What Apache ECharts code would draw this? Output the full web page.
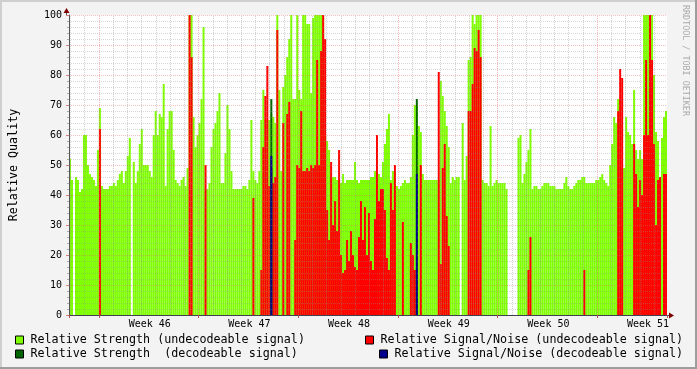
<!DOCTYPE html>
<html><head><meta charset="utf-8">
<script src="https://cdn.jsdelivr.net/npm/echarts@6.0.0/dist/echarts.min.js"></script>
<style>html,body{margin:0;padding:0;background:#f3f3f3}#c{width:697px;height:369px}</style>
</head><body><div id="c"></div>
<script>
// ---- data: each bin = 1/50 week (≈3.4 h) ----
const weekLabels = ['Week 46','Week 47','Week 48','Week 49','Week 50','Week 51'];
const strengthUndecodeable = [
52,45,0,46,45,41,42,60,60,50,47,46,45,43,55,69,43,42,42,42,43,43,44,43,45,
47,48,44,48,53,59,0,51,44,48,57,62,50,50,50,48,46,60,68,60,67,66,77,43,62,
68,68,55,45,44,43,45,46,43,49,100,100,66,56,60,64,72,96,42,42,44,56,62,64,68,
74,44,44,54,70,62,48,42,42,42,42,42,43,43,42,45,65,48,45,44,48,65,75,65,65,
65,67,66,64,100,75,48,76,80,86,92,100,72,72,100,75,72,100,100,97,97,74,99,100,100,
100,100,100,60,58,55,46,46,46,45,45,44,47,44,45,45,45,45,51,45,44,45,45,45,45,
45,46,46,48,48,47,46,51,57,62,67,45,48,48,43,42,43,44,45,44,44,46,60,70,70,
63,61,47,45,45,45,45,45,45,45,45,78,73,68,63,56,44,46,45,46,46,0,64,45,53,
85,86,100,97,100,100,100,45,44,44,43,63,43,44,45,44,44,44,44,42,0,0,0,0,0,
59,60,44,47,51,55,62,42,43,43,42,42,43,44,44,44,43,43,43,42,42,42,42,44,46,
43,42,42,43,44,45,45,46,46,44,44,44,44,44,45,45,46,47,45,44,43,50,57,66,64,
72,72,49,49,66,61,60,57,75,55,52,55,52,100,100,100,100,100,80,61,58,45,59,66,68
];
const snrUndecodeable = [
0,0,0,0,0,0,0,0,0,0,0,0,0,0,0,62,0,0,0,0,0,0,0,0,0,
0,0,0,0,0,0,0,0,0,0,0,0,0,0,0,0,0,0,0,0,0,0,0,0,0,
0,0,0,0,0,0,0,0,0,0,100,86,0,0,0,0,0,0,50,0,0,0,0,0,0,
0,0,0,0,0,0,0,0,0,0,0,0,0,0,0,0,0,39,0,0,0,15,56,73,83,
43,49,44,46,95,0,0,64,0,67,71,0,0,25,50,49,68,48,48,49,48,50,49,50,85,
50,88,100,92,35,25,51,30,38,28,55,20,14,15,25,18,28,20,16,15,26,38,25,36,20,
34,18,15,32,60,38,42,42,35,19,15,44,35,50,0,0,0,31,0,0,0,24,20,15,0,
0,50,0,0,0,0,0,0,0,0,81,17,49,57,33,23,0,0,0,0,0,0,0,0,0,
68,68,77,89,88,95,86,0,0,0,0,0,0,0,0,0,0,0,0,0,0,0,0,0,0,
0,0,0,0,0,15,26,0,0,0,0,0,0,0,0,0,0,0,0,0,0,0,0,0,0,
0,0,0,0,0,0,0,0,15,0,0,0,0,0,0,0,0,0,0,0,0,0,0,0,0,
68,82,79,0,0,0,0,0,57,47,36,45,40,60,85,60,100,85,57,30,45,46,0,47,47
];
// sparse series: [bin, value]
const strengthDecodeablePts = [[101,72],[174,72]];
const snrDecodeablePts = [[101,53],[174,47]];

const N1 = 'Relative Strength (undecodeable signal)';
const N2 = 'Relative Strength  (decodeable signal)';
const N3 = 'Relative Signal/Noise (undecodeable signal)';
const N4 = 'Relative Signal/Noise (decodeable signal)';

const FONT = 'DejaVu Sans Mono';
const nBins = strengthUndecodeable.length;
const binsPerWeek = 50;
const weekStartBin = 15;
const cats = strengthUndecodeable.map((_, i) => {
  const k = i - weekStartBin - binsPerWeek / 2;
  return (k >= 0 && k % binsPerWeek === 0) ? weekLabels[k / binsPerWeek] : '';
});
const sparse = pts => { const a = new Array(nBins).fill(0); pts.forEach(([i, v]) => { a[i] = v; }); return a; };

const dayLines = [];
for (let n = -3; n <= 45; n++) {
  const v = weekStartBin + n * binsPerWeek / 7;
  if (v > 0.5 && v < nBins) {
    const major = ((n % 7) + 7) % 7 === 0;
    dayLines.push({ xAxis: v, lineStyle: { color: major ? 'rgba(233,95,95,0.45)' : 'rgba(143,143,143,0.4)', type: [1, 1], width: 1 } });
  }
}

const barBase = { type: 'bar', barCategoryGap: '0%', barGap: '-100%', silent: true, animation: false };
const legendBase = {
  icon: 'rect', itemWidth: 8, itemHeight: 8, itemGap: 0, padding: 0, selectedMode: false,
  itemStyle: { borderColor: '#000', borderWidth: 1 },
  textStyle: { fontFamily: FONT, fontSize: 11.7, color: '#000', padding: [0, 0, 0, 2] }
};

const chart = echarts.init(document.getElementById('c'), null, { renderer: 'canvas' });
chart.setOption({
  animation: false,
  backgroundColor: '#f3f3f3',
  grid: { left: 67, top: 15, width: 600, height: 300, show: true, backgroundColor: '#ffffff', borderWidth: 0 },
  xAxis: [
    {
      type: 'category', data: cats, boundaryGap: true, z: 3,
      axisLine: { show: true, lineStyle: { color: '#404050', width: 1 } },
      axisTick: { show: true, length: 3, interval: i => i === 0 || (i - weekStartBin) % binsPerWeek === 0, lineStyle: { color: '#b05050' } },
      axisLabel: { interval: i => cats[i] !== '', fontFamily: FONT, fontSize: 10, color: '#000', margin: 4 },
      splitLine: { show: false }
    },
    { type: 'value', min: 0, max: nBins, show: false }
  ],
  yAxis: {
    type: 'value', min: 0, max: 100, interval: 10, z: 3,
    name: 'Relative Quality', nameLocation: 'middle', nameGap: 49,
    nameTextStyle: { fontFamily: FONT, fontSize: 11.7, color: '#000' },
    axisLine: { show: true, lineStyle: { color: '#555', width: 1 } },
    axisTick: { show: true, length: 3, lineStyle: { color: 'rgba(200,80,80,0.7)' } },
    minorTick: { show: true, splitNumber: 5, length: 2, lineStyle: { color: 'rgba(143,143,143,0.7)' } },
    axisLabel: { fontFamily: FONT, fontSize: 10, color: '#000', margin: 7 },
    splitLine: { show: true, lineStyle: { color: 'rgba(233,95,95,0.4)', type: [1, 1] } },
    minorSplitLine: { show: true, lineStyle: { color: 'rgba(143,143,143,0.35)', type: [1, 1] } }
  },
  legend: [
    Object.assign({}, legendBase, { data: [N1], left: 15, top: 334 }),
    Object.assign({}, legendBase, { data: [N3], left: 365, top: 334 }),
    Object.assign({}, legendBase, { data: [N2], left: 15, top: 348 }),
    Object.assign({}, legendBase, { data: [N4], left: 379, top: 348 })
  ],
  series: [
    Object.assign({}, barBase, { name: N1, data: strengthUndecodeable, itemStyle: { color: '#7fff00' }, z: 2 }),
    Object.assign({}, barBase, { name: N3, data: snrUndecodeable, itemStyle: { color: '#ff0000' }, z: 2 }),
    Object.assign({}, barBase, { name: N2, data: sparse(strengthDecodeablePts), itemStyle: { color: '#006400' }, z: 2 }),
    Object.assign({}, barBase, { name: N4, data: sparse(snrDecodeablePts), itemStyle: { color: '#00008b' }, z: 2 }),
    {
      type: 'line', xAxisIndex: 1, data: [], silent: true, z: 4,
      markLine: { silent: true, symbol: 'none', animation: false, label: { show: false }, data: dayLines }
    }
  ],
  graphic: [
    { type: 'rect', shape: { x: 0, y: 0, width: 697, height: 2 }, style: { fill: '#cfcfcf' }, silent: true },
    { type: 'rect', shape: { x: 0, y: 0, width: 2, height: 369 }, style: { fill: '#cfcfcf' }, silent: true },
    { type: 'rect', shape: { x: 0, y: 367, width: 697, height: 2 }, style: { fill: '#9e9e9e' }, silent: true },
    { type: 'rect', shape: { x: 695, y: 0, width: 2, height: 369 }, style: { fill: '#9e9e9e' }, silent: true },
    { type: 'line', shape: { x1: 66.5, y1: 15, x2: 66.5, y2: 10 }, style: { stroke: '#555', lineWidth: 1 }, silent: true },
    { type: 'line', shape: { x1: 667, y1: 315.5, x2: 671, y2: 315.5 }, style: { stroke: '#404050', lineWidth: 1 }, silent: true },
    { type: 'polygon', shape: { points: [[63.5, 13], [69.5, 13], [66.5, 8]] }, style: { fill: '#7f0000' }, silent: true },
    { type: 'polygon', shape: { points: [[669, 312.5], [669, 318.5], [674, 315.5]] }, style: { fill: '#7f0000' }, silent: true },
    { type: 'text', x: 685, y: 5, rotation: -Math.PI / 2, silent: true,
      style: { text: 'RRDTOOL / TOBI OETIKER', fill: '#ababab', font: '8.4px "DejaVu Sans Mono"', textAlign: 'left', textVerticalAlign: 'middle' } }
  ]
});
</script></body></html>
